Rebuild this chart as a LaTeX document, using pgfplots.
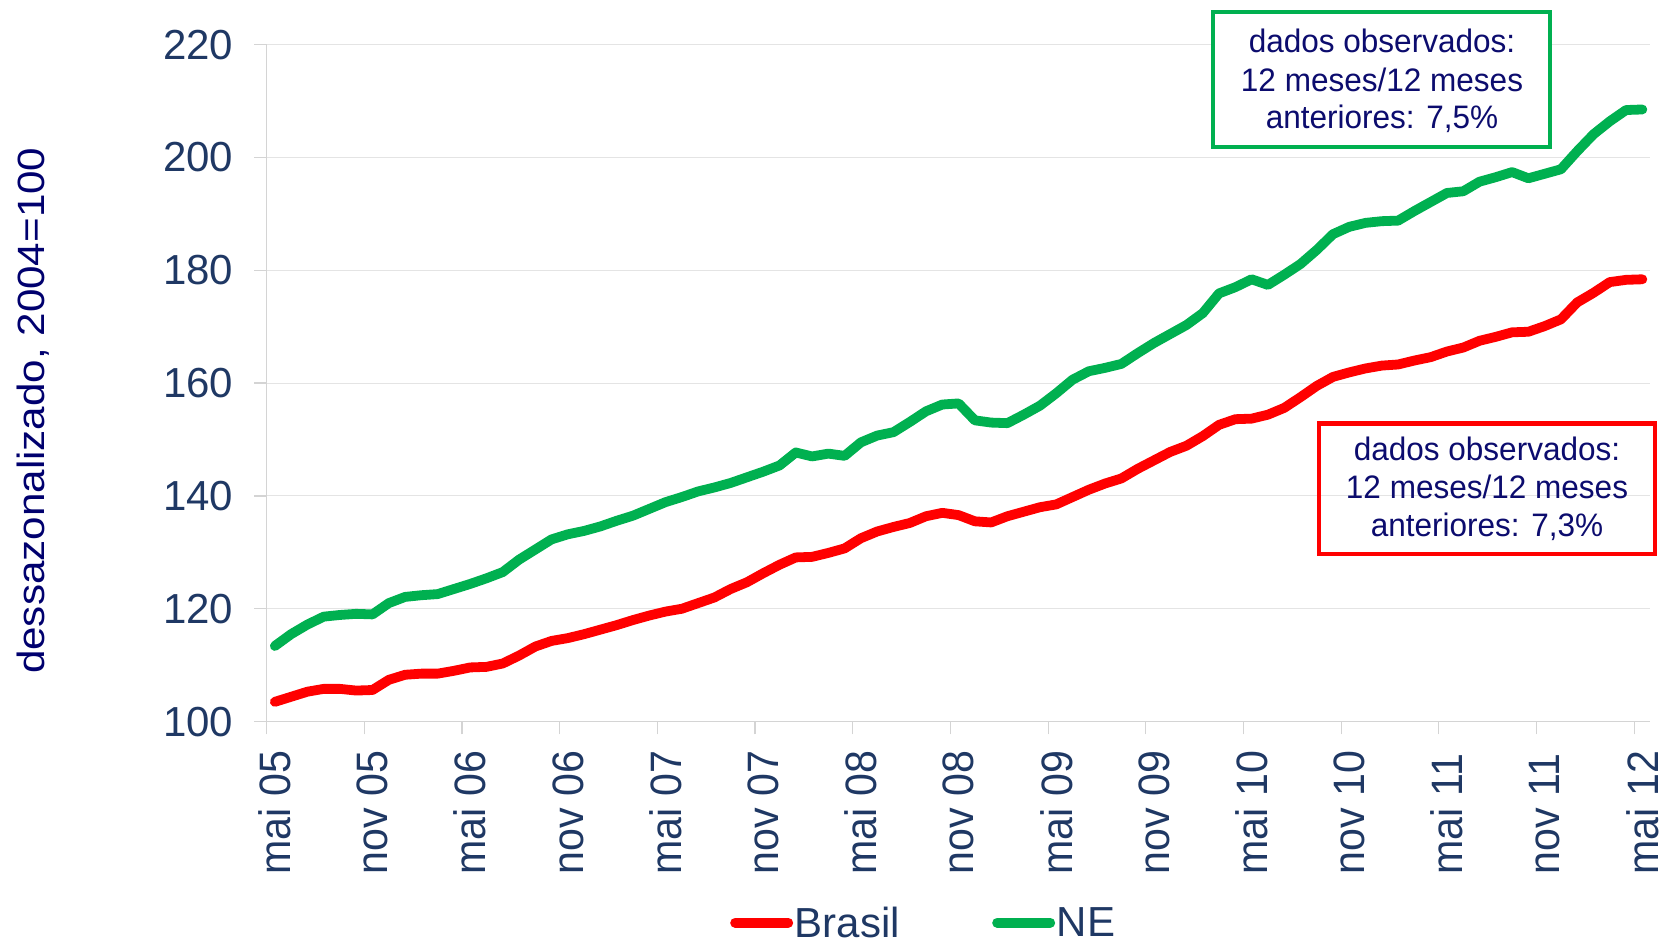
\documentclass[border=0pt]{standalone}
\usepackage{fontspec}
\setmainfont{Liberation Sans}
\newfontfamily\ylabfont{Liberation Sans}[FakeStretch=1.11]
\newfontfamily\xtfont{Liberation Sans}[FakeStretch=0.935]
\newfontfamily\boxfont{Liberation Sans}[FakeStretch=0.97]
\usepackage{pgfplots}
\pgfplotsset{compat=1.18}
\usepackage{pgfplotstable}
\definecolor{tickcol}{RGB}{31,56,100}
\definecolor{labcol}{RGB}{0,0,110}
\definecolor{boxtxt}{RGB}{12,12,110}
\definecolor{nered}{RGB}{255,0,0}
\definecolor{negreen}{RGB}{0,176,80}
\definecolor{gridc}{RGB}{228,228,228}
\definecolor{axisc}{RGB}{212,212,212}

\pgfplotstableread{
k v
0 103.5
1 104.4
2 105.3
3 105.8
4 105.8
5 105.5
6 105.6
7 107.4
8 108.3
9 108.5
10 108.5
11 109.0
12 109.6
13 109.7
14 110.3
15 111.7
16 113.3
17 114.3
18 114.8
19 115.5
20 116.3
21 117.1
22 118.0
23 118.8
24 119.5
25 120.0
26 121.0
27 122.0
28 123.5
29 124.7
30 126.3
31 127.8
32 129.1
33 129.2
34 129.9
35 130.7
36 132.5
37 133.7
38 134.5
39 135.2
40 136.4
41 137.0
42 136.6
43 135.5
44 135.3
45 136.4
46 137.2
47 138.0
48 138.5
49 139.8
50 141.1
51 142.2
52 143.1
53 144.8
54 146.3
55 147.8
56 148.9
57 150.6
58 152.6
59 153.6
60 153.7
61 154.4
62 155.6
63 157.5
64 159.5
65 161.1
66 161.9
67 162.6
68 163.1
69 163.3
70 164.0
71 164.6
72 165.6
73 166.3
74 167.5
75 168.2
76 169.0
77 169.1
78 170.1
79 171.3
80 174.3
81 176.0
82 177.9
83 178.3
84 178.4
}\brasil

\pgfplotstableread{
k v
0 113.4
1 115.5
2 117.2
3 118.6
4 118.9
5 119.1
6 119.0
7 121.0
8 122.1
9 122.4
10 122.6
11 123.5
12 124.4
13 125.4
14 126.5
15 128.7
16 130.5
17 132.3
18 133.2
19 133.8
20 134.6
21 135.6
22 136.5
23 137.7
24 138.9
25 139.8
26 140.8
27 141.5
28 142.3
29 143.3
30 144.3
31 145.4
32 147.7
33 147.0
34 147.5
35 147.1
36 149.5
37 150.7
38 151.3
39 153.1
40 155.0
41 156.2
42 156.4
43 153.4
44 153.0
45 152.9
46 154.4
47 156.0
48 158.2
49 160.6
50 162.1
51 162.7
52 163.4
53 165.3
54 167.1
55 168.7
56 170.3
57 172.4
58 175.9
59 177.0
60 178.4
61 177.4
62 179.2
63 181.1
64 183.6
65 186.4
66 187.7
67 188.4
68 188.7
69 188.8
70 190.5
71 192.1
72 193.7
73 194.0
74 195.7
75 196.5
76 197.4
77 196.3
78 197.1
79 197.9
80 201.1
81 204.1
82 206.4
83 208.4
84 208.5
}\ne

\begin{document}
\begin{tikzpicture}
\path[use as bounding box] (0pt,0pt) rectangle (1664pt,941pt);
\begin{axis}[
  scale only axis, width=1383.8pt, height=677pt,
  at={(266.7pt,219.4pt)}, anchor=south west,
  xmin=-0.5, xmax=84.5, ymin=100, ymax=220,
  axis x line*=bottom, axis y line*=left,
  axis line style={draw=axisc, line width=1.2pt},
  ytick={100,120,...,220},
  ymajorgrids, major grid style={draw=gridc, line width=1pt},
  tick align=outside, major tick length=12.7pt,
  tick style={draw=axisc, line width=1.2pt},
  xtick={-0.5,5.5,...,83.5},
  xticklabels={mai 05,nov 05,mai 06,nov 06,mai 07,nov 07,mai 08,nov 08,mai 09,nov 09,mai 10,nov 10,mai 11,nov 11,mai 12},
  xticklabel style={xshift=8.14pt, yshift=-140.4pt, rotate=90, anchor=west, inner sep=0pt, font=\xtfont\fontsize{44pt}{50pt}\selectfont, text=tickcol},
  yticklabel style={anchor=east, inner sep=0pt, xshift=-20.7pt, font=\fontsize{42pt}{48pt}\selectfont, text=tickcol},
  /pgf/number format/assume math mode=true,
  legend style={draw=none, fill=none, at={(0.3348,-0.297)}, anchor=west, legend columns=2, inner sep=0pt, column sep=1.5pt, font=\fontsize{42pt}{48pt}\selectfont, text=tickcol, nodes={inner sep=0pt}},
  legend image code/.code={\draw[#1, line width=10pt, line cap=round] (0pt,0pt) -- (53pt,0pt);},
]
\addplot[nered, line width=9.8pt, line join=round, line cap=round] table[x=k, y=v] {\brasil};
\addlegendentry{\makebox[196pt][l]{Brasil}}
\addplot[negreen, line width=9.8pt, line join=round, line cap=round] table[x=k, y=v] {\ne};
\addlegendentry{NE}
\end{axis}
\node[rotate=90, anchor=base, text=labcol, font=\ylabfont\fontsize{38pt}{44pt}\selectfont] at (44.7pt,530.3pt) {dessazonalizado, 2004=100};
\draw[negreen, line width=4pt, fill=white] (1213pt,794.3pt) rectangle (1550pt,929.3pt);
\begin{scope}[every node/.style={anchor=base, text=boxtxt, font=\boxfont\fontsize{32.5pt}{38pt}\selectfont, inner sep=0pt}]
\node at (1382pt,888pt) {dados observados:};
\node at (1382pt,849.3pt) {12 meses/12 meses};
\node at (1382pt,812.7pt) {anteriores: 7,5\%};
\end{scope}
\draw[nered, line width=4.5pt] (1319pt,387pt) rectangle (1655pt,517.7pt);
\begin{scope}[every node/.style={anchor=base, text=boxtxt, font=\boxfont\fontsize{32.5pt}{38pt}\selectfont, inner sep=0pt}]
\node at (1487pt,480.3pt) {dados observados:};
\node at (1487pt,442pt) {12 meses/12 meses};
\node at (1487pt,404.3pt) {anteriores: 7,3\%};
\end{scope}
\end{tikzpicture}
\end{document}
